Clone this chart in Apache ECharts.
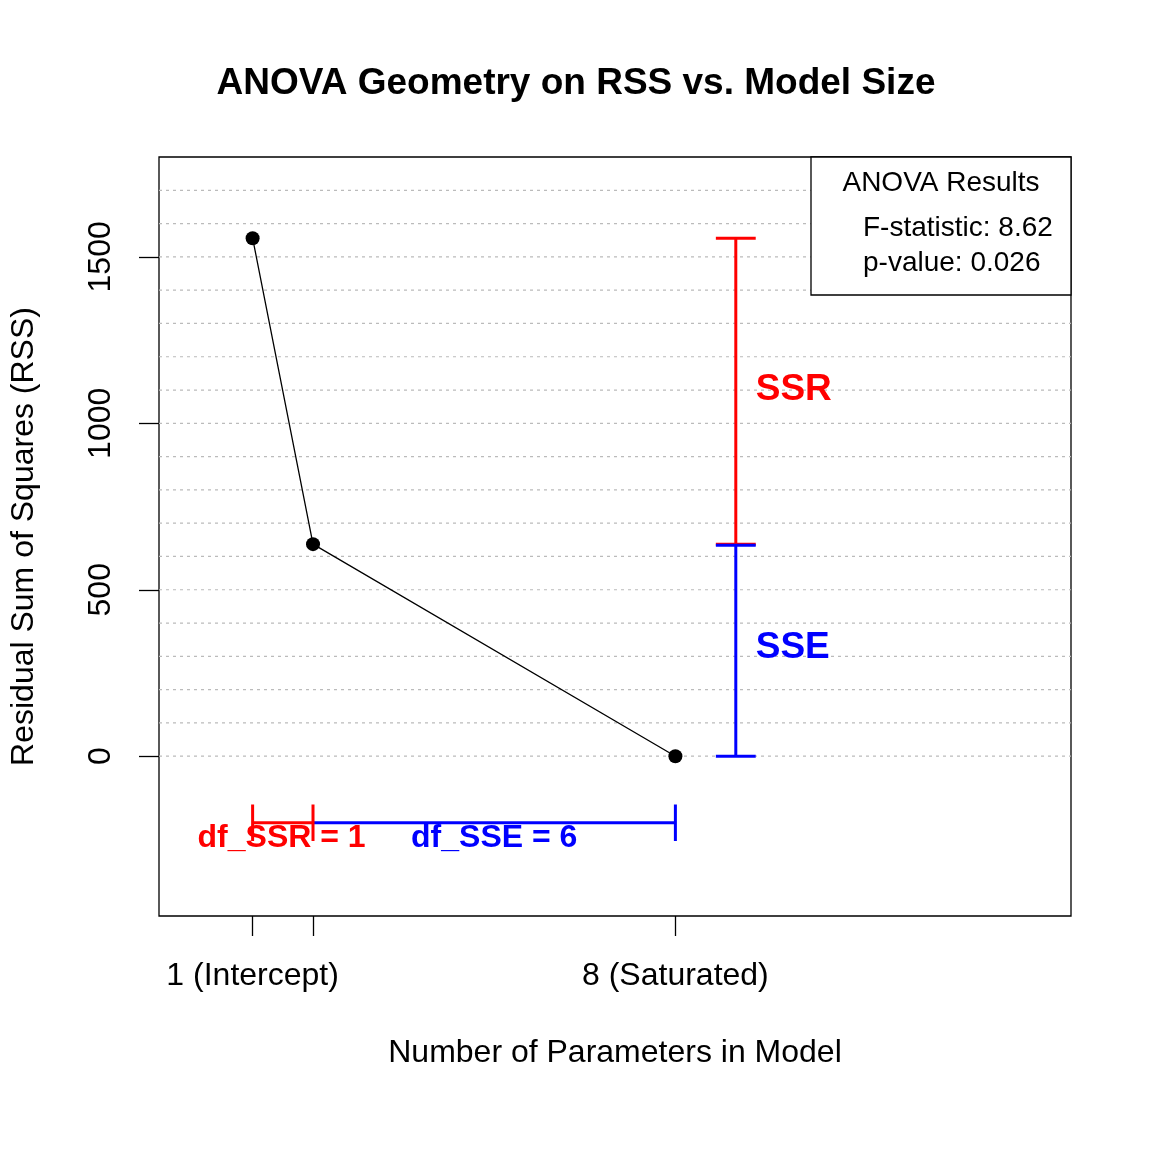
<!DOCTYPE html>
<html><head><meta charset="utf-8">
<script src="https://cdn.jsdelivr.net/npm/echarts@6/dist/echarts.min.js"></script>
<style>html,body{margin:0;background:#fff}#c{width:1152px;height:1152px}</style>
</head><body><div id="c"></div>
<script>
// model sizes and RSS
const params = [1, 2, 8];
const rss = [1556, 637, 0];
const gridLevels = [0,100,200,300,400,500,600,700,800,900,1000,1100,1200,1300,1400,1500,1600,1700];
const yTicks = [0, 500, 1000, 1500];
const xTickLabels = {1: '1 (Intercept)', 8: '8 (Saturated)'};
const barX = 9, capHalf = 0.33, dfY = -200, dfCap = 55;

const FONT = 'Liberation Sans, Arial, sans-serif';
const seg = (pts, color, width, dash) => ({
    type: 'line', data: pts, symbol: 'none', silent: true, animation: false,
    lineStyle: {color, width: width || 1, type: dash || 'solid'}
});

const series = [];
gridLevels.forEach(v => series.push(seg([[-0.55, v], [14.55, v]], '#bbb', 1.2, [3, 4])));
series.push({
    type: 'line', data: params.map((p, i) => [p, rss[i]]), animation: false,
    symbol: 'circle', symbolSize: 14, itemStyle: {color: '#000'},
    lineStyle: {color: '#000', width: 1.3}
});
// SSR / SSE bars
series.push(seg([[barX, rss[1]], [barX, rss[0]]], '#ff0000', 3));
series.push(seg([[barX - capHalf, rss[0]], [barX + capHalf, rss[0]]], '#ff0000', 3));
series.push(seg([[barX - capHalf, rss[1]], [barX + capHalf, rss[1]]], '#ff0000', 3));
series.push(seg([[barX, rss[2]], [barX, rss[1]]], '#0000ff', 3));
series.push(seg([[barX - capHalf, rss[2]], [barX + capHalf, rss[2]]], '#0000ff', 3));
series.push(seg([[barX - capHalf, rss[1] - 3], [barX + capHalf, rss[1] - 3]], '#0000ff', 3));
// df brackets
series.push(seg([[params[1], dfY], [params[2], dfY]], '#0000ff', 3));
series.push(seg([[params[2], dfY - dfCap], [params[2], dfY + dfCap]], '#0000ff', 3));
series.push(seg([[params[0], dfY], [params[1], dfY]], '#ff0000', 3));
series.push(seg([[params[0], dfY - dfCap], [params[0], dfY + dfCap]], '#ff0000', 3));
series.push(seg([[params[1], dfY - dfCap], [params[1], dfY + dfCap]], '#ff0000', 3));
// text labels
const lbl = (x, y, text, color, align, size) => ({
    type: 'scatter', data: [[x, y]], symbolSize: 1, animation: false, silent: true, z: 5,
    itemStyle: {color: 'rgba(0,0,0,0)', opacity: 1},
    label: {show: true, formatter: text, position: 'inside', align: align || 'center', opacity: 1,
        color, fontSize: size, fontWeight: 'bold', fontFamily: FONT}
});
series.push(lbl(9.33, 1100, 'SSR', '#ff0000', 'left', 37));
series.push(lbl(9.33, 327, 'SSE', '#0000ff', 'left', 37));
series.push(lbl(1.48, -246, 'df_SSR = 1', '#ff0000', 'center', 32));
series.push(lbl(5.0, -246, 'df_SSE = 6', '#0000ff', 'center', 32));

const chart = echarts.init(document.getElementById('c'));
chart.setOption({
    backgroundColor: '#fff',
    title: {text: 'ANOVA Geometry on RSS vs. Model Size', left: 'center', top: 60,
        textStyle: {fontSize: 37, fontWeight: 'bold', fontFamily: FONT, color: '#000'}},
    grid: {left: 158, right: 81, top: 157, bottom: 236, show: true, borderColor: '#000', borderWidth: 1.3},
    xAxis: {
        type: 'value', min: -0.55, max: 14.55,
        name: 'Number of Parameters in Model', nameLocation: 'middle', nameGap: 121,
        nameTextStyle: {fontSize: 32, fontFamily: FONT, color: '#000'},
        axisLine: {show: false, onZero: false}, splitLine: {show: false},
        axisTick: {show: true, inside: false, customValues: params, length: 20, lineStyle: {color: '#000', width: 1.3}},
        axisLabel: {customValues: [1, 8], formatter: v => xTickLabels[v] || '', margin: 44,
            fontSize: 32, fontFamily: FONT, color: '#000'}
    },
    yAxis: {
        type: 'value', min: -480, max: 1800,
        name: 'Residual Sum of Squares (RSS)', nameLocation: 'middle', nameGap: 119,
        nameTextStyle: {fontSize: 32, fontFamily: FONT, color: '#000'},
        axisLine: {show: false, onZero: false}, splitLine: {show: false},
        axisTick: {show: true, inside: false, customValues: yTicks, length: 20, lineStyle: {color: '#000', width: 1.3}},
        axisLabel: {customValues: yTicks, formatter: v => String(v), rotate: 90, margin: 42,
            fontSize: 32, fontFamily: FONT, color: '#000'}
    },
    graphic: [
        {type: 'rect', shape: {x: 811, y: 157, width: 260, height: 138},
            style: {fill: '#fff', stroke: '#000', lineWidth: 1.3}, z: 100},
        {type: 'text', x: 941, y: 183, z: 101, style: {text: 'ANOVA Results', align: 'center', verticalAlign: 'middle', fontSize: 28, fontFamily: FONT, fill: '#000'}},
        {type: 'text', x: 863, y: 228, z: 101, style: {text: 'F-statistic: 8.62', verticalAlign: 'middle', fontSize: 28, fontFamily: FONT, fill: '#000'}},
        {type: 'text', x: 863, y: 263, z: 101, style: {text: 'p-value: 0.026', verticalAlign: 'middle', fontSize: 28, fontFamily: FONT, fill: '#000'}}
    ],
    series
});
</script></body></html>
